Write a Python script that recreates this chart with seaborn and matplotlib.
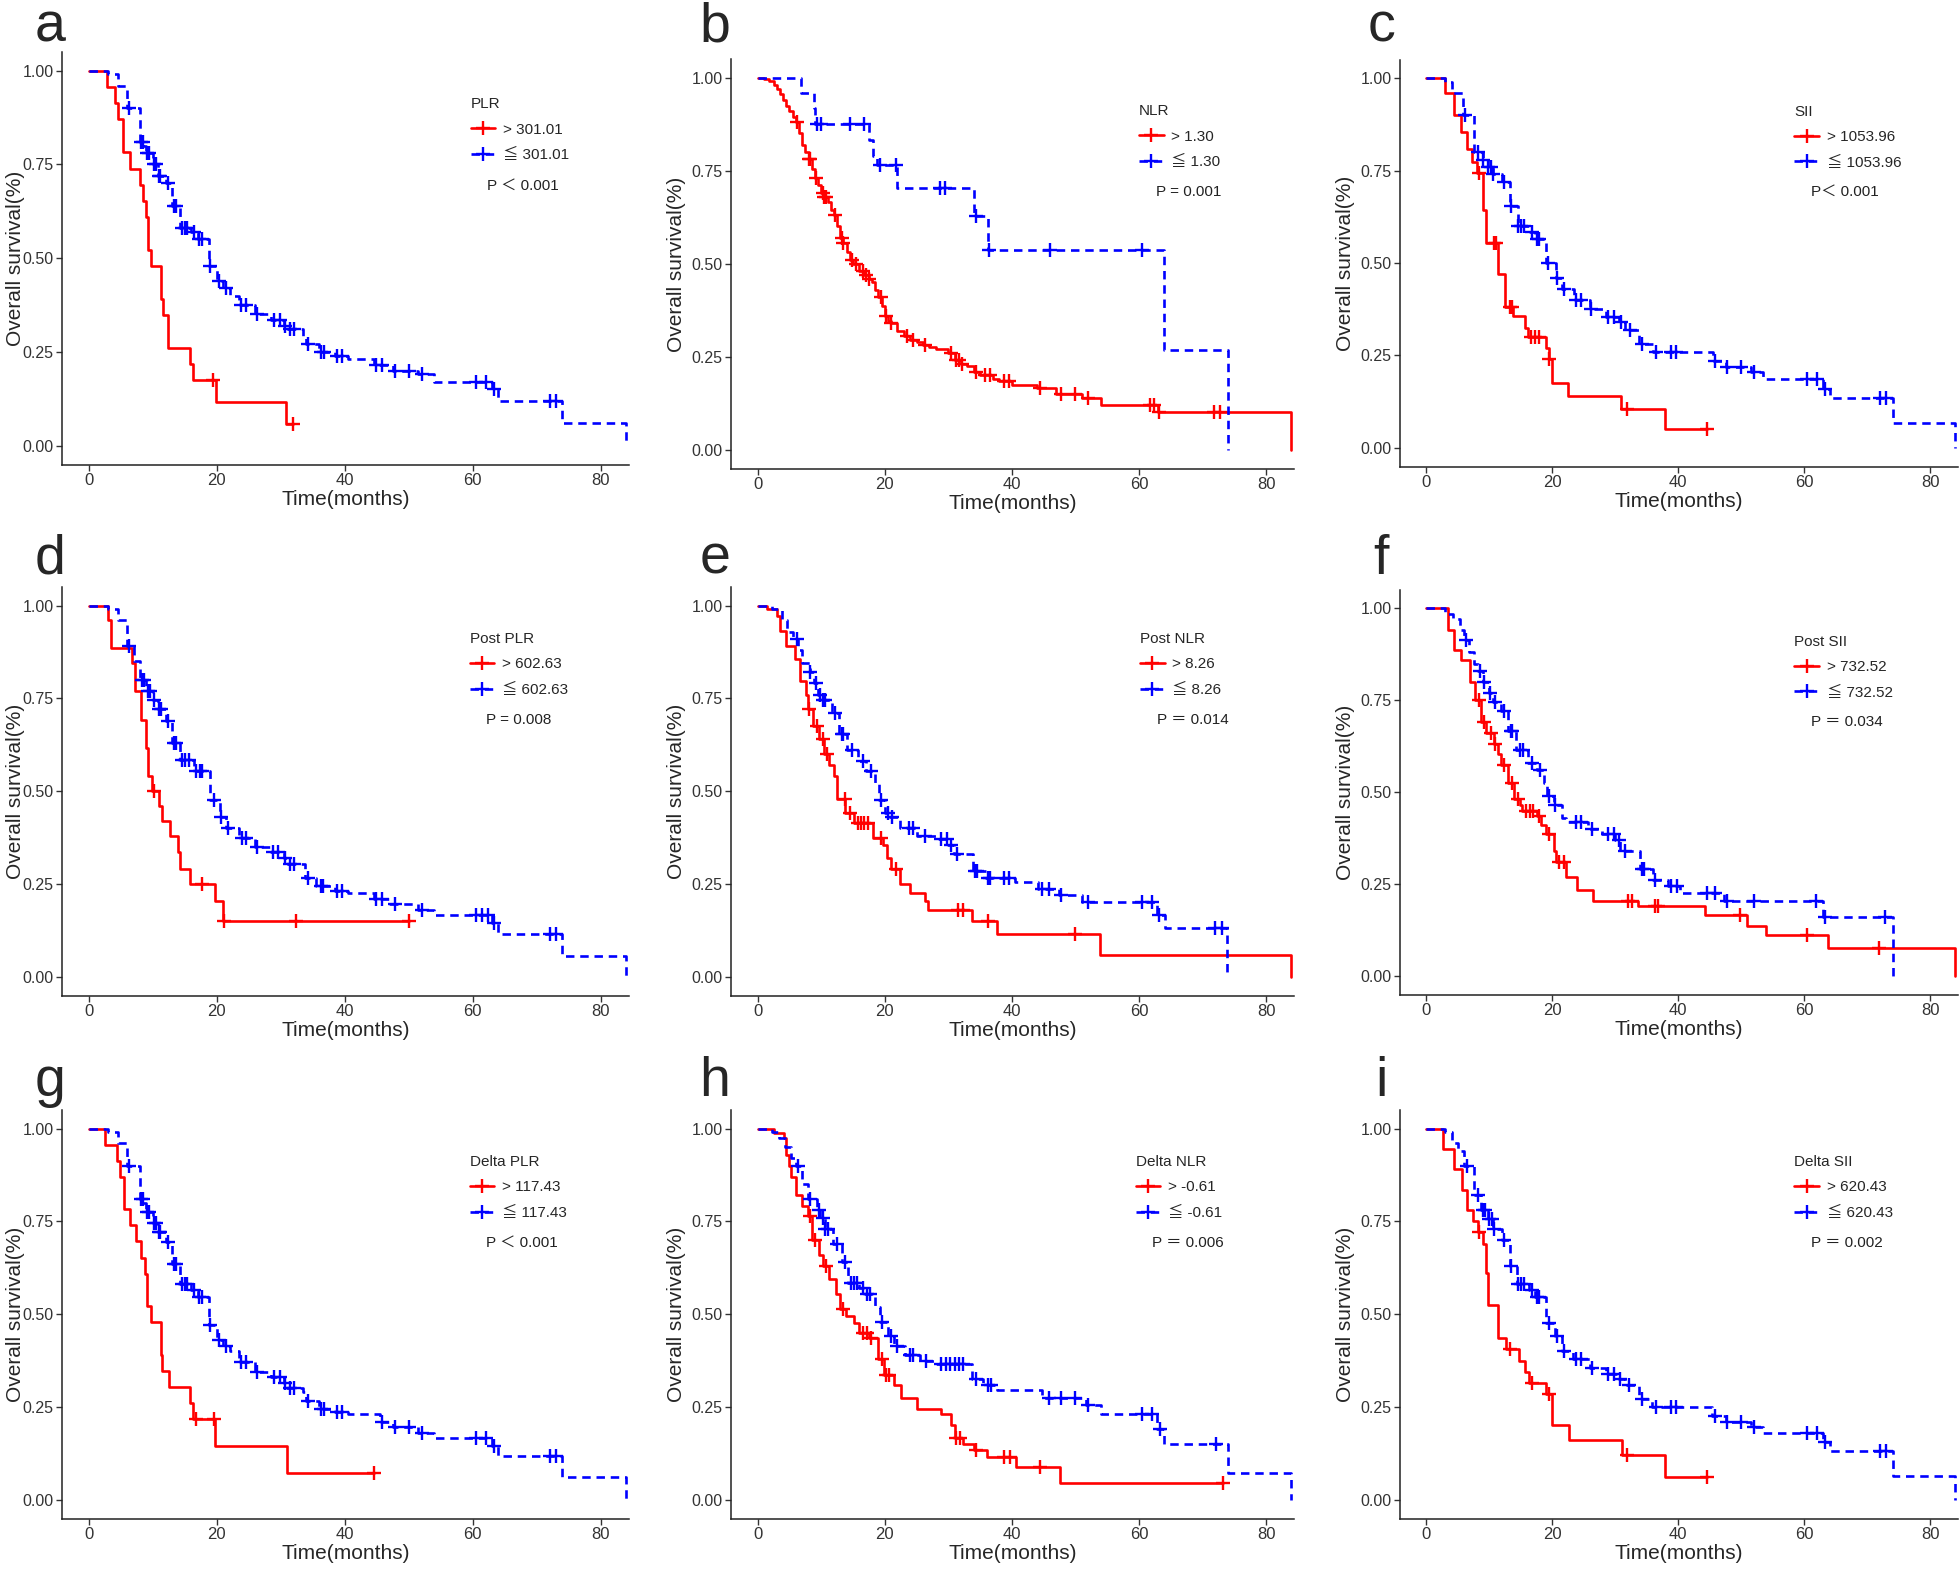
import numpy as np
import pandas as pd
import matplotlib
matplotlib.use("Agg")
import matplotlib.pyplot as plt
from matplotlib.lines import Line2D
import seaborn as sns

# ---- step points (time, survival after the drop) and censor times ----
a_red = [(2.9, 0.957), (4.1, 0.913), (4.6, 0.870), (5.4, 0.783), (6.4, 0.739), (8.0, 0.696), (8.5, 0.652),
         (8.9, 0.609), (9.2, 0.522), (9.7, 0.478), (11.3, 0.391), (11.6, 0.348), (12.3, 0.261), (15.8, 0.217),
         (16.3, 0.174), (19.9, 0.116), (30.8, 0.058)]
a_red_cens = [19.4, 31.9]
a_red_end = 31.9
a_blue = [(3.0, 0.99), (4.5, 0.96), (6.0, 0.90), (8.0, 0.81), (8.5, 0.80), (9.0, 0.78), (10.0, 0.75), (10.8, 0.72),
          (12.0, 0.70), (13.0, 0.64), (14.3, 0.58), (16.0, 0.57), (17.0, 0.55), (18.8, 0.48), (20.0, 0.44),
          (21.0, 0.42), (22.0, 0.40), (23.5, 0.375), (26.0, 0.35), (28.5, 0.335), (30.5, 0.32), (31.0, 0.31),
          (33.5, 0.29), (34.0, 0.27), (36.0, 0.25), (38.5, 0.24), (40.5, 0.23), (44.5, 0.215), (47.5, 0.20),
          (51.5, 0.19), (54.0, 0.17), (63.0, 0.15), (64.0, 0.12), (74.0, 0.06), (84.0, 0.0)]
a_blue_cens = [6.3, 8.2, 8.4, 9.1, 9.4, 10.2, 10.5, 10.9, 11.1, 12.3, 13.3, 13.6, 14.5, 15.0, 15.4, 16.5, 17.2,
               17.6, 19.0, 20.3, 21.4, 23.8, 24.5, 26.3, 28.9, 29.8, 30.7, 31.5, 32.0, 34.3, 36.2, 36.7, 38.7,
               39.5, 44.8, 45.8, 47.8, 50.0, 52.0, 60.5, 62.0, 63.3, 72.0, 73.0]
a_blue_end = 84.0

b_red = [(1.0, 0.995), (1.8, 0.99), (2.5, 0.98), (3.0, 0.97), (3.5, 0.955), (4.0, 0.94), (4.5, 0.925), (5.0, 0.91),
         (5.5, 0.895), (6.0, 0.88), (6.5, 0.85), (7.0, 0.82), (7.5, 0.80), (8.0, 0.78), (8.5, 0.755), (9.0, 0.73),
         (9.5, 0.71), (10.0, 0.69), (10.5, 0.68), (11.0, 0.665), (11.5, 0.645), (12.0, 0.63), (12.5, 0.60),
         (13.0, 0.57), (13.5, 0.555), (14.0, 0.53), (14.5, 0.51), (15.0, 0.50), (16.0, 0.48), (16.8, 0.47),
         (17.5, 0.46), (18.0, 0.45), (18.5, 0.43), (19.0, 0.41), (19.5, 0.385), (20.0, 0.36), (20.5, 0.345),
         (21.0, 0.34), (22.0, 0.32), (23.0, 0.305), (24.0, 0.295), (25.0, 0.29), (26.0, 0.28), (27.0, 0.275),
         (28.0, 0.27), (30.0, 0.26), (31.0, 0.24), (32.0, 0.23), (33.0, 0.225), (34.0, 0.21), (35.0, 0.20),
         (37.0, 0.19), (38.0, 0.185), (40.0, 0.175), (44.0, 0.165), (47.0, 0.15), (51.0, 0.14), (54.0, 0.12),
         (63.0, 0.10), (84.0, 0.0)]
b_red_cens = [6.2, 8.0, 8.3, 9.1, 10.2, 10.5, 10.8, 12.1, 13.2, 13.5, 14.8, 15.4, 16.5, 17.0, 17.5, 19.4, 20.2,
              21.0, 23.5, 24.5, 26.3, 30.5, 31.2, 31.7, 32.2, 34.3, 35.8, 36.5, 38.8, 39.5, 44.5, 47.7, 50.0,
              52.0, 61.8, 62.3, 63.2, 71.8, 72.7]
b_red_end = 84.0
b_blue = [(6.8, 0.958), (8.8, 0.917), (9.0, 0.875), (17.5, 0.833), (18.2, 0.79), (18.8, 0.765), (22.0, 0.704),
          (34.0, 0.627), (36.2, 0.537), (64.0, 0.268), (74.0, 0.0)]
b_blue_cens = [9.3, 10.0, 14.5, 16.7, 19.3, 21.8, 28.7, 29.5, 34.3, 36.4, 46.0, 60.5]
b_blue_end = 74.0

c_red = [(3.0, 0.96), (4.3, 0.90), (5.5, 0.855), (6.5, 0.81), (7.3, 0.775), (8.0, 0.745), (9.0, 0.643),
         (9.5, 0.555), (11.4, 0.47), (12.5, 0.38), (13.8, 0.357), (15.7, 0.325), (16.2, 0.30), (19.0, 0.27),
         (19.5, 0.24), (19.9, 0.175), (22.5, 0.14), (30.9, 0.105), (37.8, 0.05)]
c_red_cens = [8.3, 10.7, 11.0, 13.3, 13.6, 16.6, 17.3, 17.9, 19.5, 31.8, 44.5]
c_red_end = 44.5
c_blue = [(3.0, 0.99), (4.0, 0.96), (5.8, 0.90), (7.5, 0.80), (9.0, 0.78), (9.7, 0.76), (10.5, 0.74), (12.0, 0.72),
          (13.3, 0.655), (14.5, 0.60), (16.5, 0.585), (17.3, 0.565), (19.0, 0.50), (20.5, 0.46), (21.5, 0.43),
          (23.5, 0.40), (26.0, 0.375), (28.5, 0.355), (30.5, 0.34), (31.5, 0.32), (33.7, 0.28), (36.0, 0.26),
          (45.5, 0.235), (47.5, 0.22), (51.5, 0.205), (53.5, 0.185), (63.0, 0.16), (64.0, 0.135), (74.0, 0.066),
          (84.0, 0.0)]
c_blue_cens = [6.2, 8.2, 9.0, 9.8, 10.2, 10.6, 12.3, 13.5, 14.6, 15.0, 15.5, 16.8, 17.5, 17.8, 19.3, 20.7, 21.8,
               23.8, 24.5, 26.2, 28.9, 29.8, 30.9, 32.3, 34.2, 36.5, 38.8, 39.7, 45.8, 47.8, 50.0, 52.0, 60.5,
               62.0, 63.3, 72.0, 73.0]
c_blue_end = 84.0

d_red = [(3.0, 0.96), (3.4, 0.885), (6.8, 0.846), (7.2, 0.77), (8.2, 0.692), (8.9, 0.615), (9.3, 0.54),
         (9.9, 0.50), (11.0, 0.46), (11.4, 0.42), (12.6, 0.38), (14.0, 0.335), (14.3, 0.29), (15.8, 0.25),
         (19.7, 0.205), (21.0, 0.15)]
d_red_cens = [10.2, 17.6, 21.1, 32.3, 50.0]
d_red_end = 50.0
d_blue = [(3.0, 0.99), (4.5, 0.96), (6.0, 0.89), (7.0, 0.85), (8.0, 0.80), (9.0, 0.77), (10.0, 0.745), (10.8, 0.72),
          (12.0, 0.69), (13.0, 0.63), (14.3, 0.585), (16.5, 0.555), (19.0, 0.475), (20.5, 0.43), (21.5, 0.40),
          (23.5, 0.375), (26.0, 0.35), (28.5, 0.335), (30.5, 0.32), (31.0, 0.305), (33.8, 0.265), (35.5, 0.245),
          (38.5, 0.23), (40.5, 0.225), (44.5, 0.21), (47.0, 0.195), (51.5, 0.18), (54.0, 0.165), (63.0, 0.145),
          (64.0, 0.115), (74.0, 0.057), (84.0, 0.0)]
d_blue_cens = [6.3, 8.3, 8.6, 9.3, 9.6, 10.2, 10.9, 11.2, 12.3, 13.3, 13.6, 14.5, 15.0, 15.6, 16.8, 17.3, 17.7,
               19.5, 20.6, 21.7, 23.9, 24.5, 26.2, 28.8, 29.6, 30.6, 31.5, 32.0, 34.2, 36.3, 36.6, 38.7, 39.5,
               44.8, 45.8, 47.9, 52.0, 60.5, 61.5, 62.3, 63.3, 72.0, 73.0]
d_blue_end = 84.0

e_red = [(1.5, 0.99), (3.0, 0.973), (3.5, 0.932), (4.4, 0.89), (5.8, 0.855), (6.6, 0.796), (7.6, 0.76), (7.9, 0.72),
         (8.7, 0.675), (9.6, 0.64), (10.5, 0.60), (11.2, 0.57), (12.0, 0.54), (12.5, 0.48), (13.8, 0.44),
         (15.1, 0.415), (18.1, 0.375), (19.7, 0.355), (20.4, 0.32), (21.0, 0.29), (22.4, 0.25), (24.0, 0.225),
         (26.4, 0.205), (26.8, 0.18), (33.7, 0.15), (37.7, 0.115), (53.9, 0.058), (84.0, 0.0)]
e_red_cens = [8.1, 9.3, 10.3, 10.9, 13.7, 14.5, 15.8, 16.3, 16.8, 17.3, 19.4, 21.8, 31.5, 32.3, 36.2, 49.9]
e_red_end = 84.0
e_blue = [(2.3, 0.99), (3.9, 0.96), (4.6, 0.93), (5.5, 0.91), (6.4, 0.88), (6.9, 0.845), (8.2, 0.82), (8.9, 0.79),
          (9.5, 0.76), (10.2, 0.745), (11.7, 0.71), (12.8, 0.655), (14.1, 0.61), (15.8, 0.58), (17.1, 0.555),
          (18.4, 0.52), (19.1, 0.475), (20.1, 0.44), (20.7, 0.43), (22.4, 0.40), (25.0, 0.38), (28.3, 0.37),
          (30.0, 0.355), (30.9, 0.33), (33.9, 0.285), (35.9, 0.265), (40.5, 0.255), (44.1, 0.235), (47.4, 0.22),
          (51.0, 0.20), (62.8, 0.165), (64.1, 0.13), (73.8, 0.0)]
e_blue_cens = [6.2, 8.2, 9.2, 9.8, 10.2, 10.6, 12.2, 13.3, 13.5, 14.8, 16.5, 17.8, 19.4, 20.5, 21.2, 23.8, 24.5,
               26.3, 28.9, 29.8, 30.5, 31.3, 34.2, 34.5, 36.3, 36.6, 38.8, 39.6, 44.8, 45.8, 47.8, 52.0, 60.5,
               62.0, 63.2, 72.0, 73.0]
e_blue_end = 73.8

f_red = [(3.5, 0.94), (4.3, 0.887), (5.5, 0.86), (6.9, 0.80), (7.7, 0.75), (8.7, 0.69), (9.5, 0.66), (10.7, 0.63),
         (11.4, 0.605), (11.9, 0.575), (12.9, 0.525), (13.9, 0.48), (14.9, 0.465), (15.2, 0.45), (17.6, 0.435),
         (18.2, 0.41), (19.0, 0.385), (20.2, 0.34), (20.6, 0.31), (22.2, 0.27), (23.9, 0.235), (26.4, 0.205),
         (33.6, 0.19), (44.3, 0.165), (50.9, 0.135), (53.9, 0.11), (63.8, 0.075), (84.0, 0.0)]
f_red_cens = [8.3, 9.2, 10.3, 10.9, 12.3, 13.6, 14.5, 15.8, 16.4, 16.9, 17.8, 19.5, 21.1, 21.8, 32.0, 32.6, 36.3,
              36.8, 49.8, 60.5, 71.8]
f_red_end = 84.0
f_blue = [(2.9, 0.985), (4.2, 0.97), (5.4, 0.94), (6.0, 0.915), (6.8, 0.88), (7.5, 0.85), (8.2, 0.83), (8.9, 0.80),
          (9.9, 0.77), (10.5, 0.745), (11.9, 0.72), (12.9, 0.665), (14.2, 0.615), (16.2, 0.58), (17.6, 0.56),
          (18.6, 0.525), (19.2, 0.49), (20.2, 0.465), (21.5, 0.43), (22.2, 0.42), (25.6, 0.40), (27.9, 0.385),
          (29.9, 0.37), (30.8, 0.34), (33.9, 0.29), (35.9, 0.26), (38.3, 0.245), (40.3, 0.225), (47.3, 0.205),
          (63.0, 0.16), (74.0, 0.0)]
f_blue_cens = [6.3, 8.5, 9.2, 10.1, 10.9, 12.3, 13.4, 13.6, 14.9, 15.3, 16.8, 18.0, 19.5, 20.4, 23.8, 24.5, 26.3,
               28.9, 29.7, 30.5, 31.5, 34.3, 34.6, 36.3, 38.8, 39.8, 44.6, 45.8, 47.8, 52.0, 61.8, 63.3, 72.8]
f_blue_end = 74.0

g_red = [(2.5, 0.957), (4.4, 0.913), (4.9, 0.87), (5.5, 0.783), (6.4, 0.739), (7.4, 0.696), (8.2, 0.652),
         (8.7, 0.609), (9.1, 0.522), (9.7, 0.478), (11.2, 0.391), (11.5, 0.348), (12.5, 0.304), (15.8, 0.261),
         (16.3, 0.217), (19.7, 0.145), (30.9, 0.072)]
g_red_cens = [16.7, 19.5, 44.5]
g_red_end = 44.5
g_blue = [(3.0, 0.99), (4.5, 0.96), (6.0, 0.90), (8.0, 0.81), (8.5, 0.80), (9.0, 0.775), (10.0, 0.745),
          (10.8, 0.72), (12.0, 0.695), (13.0, 0.635), (14.3, 0.58), (16.0, 0.565), (17.0, 0.545), (18.8, 0.47),
          (20.0, 0.43), (21.0, 0.415), (22.0, 0.40), (23.5, 0.37), (26.0, 0.345), (28.5, 0.33), (30.5, 0.315),
          (31.0, 0.30), (33.5, 0.29), (34.0, 0.265), (36.0, 0.245), (38.5, 0.235), (40.5, 0.23), (45.5, 0.21),
          (47.5, 0.195), (51.5, 0.18), (54.0, 0.165), (63.0, 0.145), (64.0, 0.118), (74.0, 0.06), (84.0, 0.0)]
g_blue_cens = [6.3, 8.2, 8.4, 9.1, 9.4, 10.2, 10.5, 10.9, 11.1, 12.3, 13.3, 13.6, 14.5, 15.0, 15.4, 16.5, 17.2,
               17.6, 19.0, 20.3, 21.4, 23.8, 24.5, 26.3, 28.9, 29.8, 30.7, 31.5, 32.0, 34.3, 36.2, 36.7, 38.7,
               39.5, 45.8, 47.8, 50.0, 52.0, 60.5, 62.0, 63.3, 72.0, 73.0]
g_blue_end = 84.0

h_red = [(2.6, 0.988), (4.2, 0.975), (4.4, 0.93), (5.0, 0.90), (5.3, 0.87), (6.1, 0.82), (7.0, 0.79), (7.9, 0.765),
         (8.6, 0.70), (9.6, 0.66), (10.3, 0.63), (11.3, 0.595), (12.3, 0.555), (12.9, 0.515), (13.9, 0.495),
         (15.2, 0.475), (15.9, 0.45), (17.5, 0.435), (18.9, 0.38), (19.9, 0.335), (21.5, 0.31), (22.5, 0.275),
         (25.0, 0.245), (28.8, 0.23), (30.5, 0.20), (31.0, 0.165), (32.3, 0.15), (34.1, 0.135), (36.1, 0.115),
         (40.6, 0.088), (47.5, 0.044)]
h_red_cens = [8.3, 9.0, 10.8, 13.4, 16.5, 17.2, 17.8, 19.5, 20.2, 20.7, 31.2, 31.8, 34.3, 38.8, 39.7, 44.5, 73.2]
h_red_end = 73.2
h_blue = [(2.3, 0.99), (3.3, 0.975), (4.3, 0.95), (5.3, 0.92), (6.0, 0.90), (7.0, 0.85), (7.9, 0.81), (9.3, 0.78),
          (9.8, 0.76), (10.6, 0.73), (11.9, 0.69), (13.2, 0.64), (14.2, 0.585), (15.9, 0.57), (16.9, 0.555),
          (18.5, 0.52), (19.2, 0.48), (20.5, 0.44), (21.5, 0.415), (23.2, 0.39), (25.5, 0.375), (27.8, 0.365),
          (33.8, 0.325), (35.5, 0.31), (37.7, 0.295), (44.7, 0.275), (51.6, 0.255), (54.0, 0.23), (62.9, 0.19),
          (63.9, 0.15), (74.0, 0.072), (84.0, 0.0)]
h_blue_cens = [6.3, 8.3, 9.6, 10.2, 10.6, 11.0, 12.5, 13.7, 14.7, 15.1, 15.6, 16.5, 17.2, 17.6, 19.5, 21.0, 22.0,
               23.9, 24.5, 26.5, 28.8, 29.6, 30.3, 31.0, 31.7, 32.3, 34.3, 36.3, 36.7, 45.8, 47.8, 50.0, 52.0,
               60.5, 62.0, 63.3, 72.2]
h_blue_end = 84.0

i_red = [(2.7, 0.945), (4.4, 0.89), (5.6, 0.835), (6.4, 0.78), (7.4, 0.75), (8.2, 0.72), (9.0, 0.69), (9.4, 0.61),
         (9.8, 0.525), (11.4, 0.435), (12.7, 0.405), (14.7, 0.375), (15.6, 0.345), (16.3, 0.315), (19.0, 0.285),
         (20.0, 0.20), (22.6, 0.16), (31.0, 0.12), (37.9, 0.062)]
i_red_cens = [8.4, 13.3, 16.7, 19.5, 31.9, 44.5]
i_red_end = 44.5
i_blue = [(3.0, 0.99), (4.0, 0.96), (5.0, 0.94), (6.0, 0.90), (7.5, 0.82), (8.7, 0.78), (9.8, 0.755), (10.6, 0.73),
          (12.0, 0.70), (13.3, 0.63), (14.3, 0.58), (16.3, 0.565), (17.3, 0.545), (19.0, 0.475), (20.4, 0.44),
          (21.5, 0.40), (23.3, 0.38), (26.0, 0.355), (28.5, 0.34), (30.5, 0.325), (31.5, 0.31), (33.7, 0.27),
          (35.8, 0.25), (45.3, 0.225), (47.5, 0.21), (51.5, 0.195), (53.5, 0.18), (63.0, 0.155), (64.0, 0.13),
          (74.0, 0.065), (84.0, 0.0)]
i_blue_cens = [6.4, 8.2, 9.0, 9.3, 10.0, 10.4, 10.8, 12.3, 13.5, 14.6, 15.0, 15.5, 16.7, 17.5, 17.9, 19.4, 20.8,
               21.9, 23.8, 24.5, 26.3, 28.9, 29.8, 30.8, 32.2, 34.2, 36.4, 38.8, 39.7, 45.8, 47.8, 50.0, 52.0,
               60.5, 62.0, 63.3, 72.0, 73.0]
i_blue_end = 84.0

# ---- panel texts ----
panel_letters = ["a", "b", "c", "d", "e", "f", "g", "h", "i"]
legend_titles = ["PLR", "NLR", "SII", "Post PLR", "Post NLR", "Post SII", "Delta PLR", "Delta NLR", "Delta SII"]
cutoffs = ["301.01", "1.30", "1053.96", "602.63", "8.26", "732.52", "117.43", "-0.61", "620.43"]
p_texts = ["P \uff1c 0.001", "P = 0.001", "P\uff1c 0.001", "P = 0.008", "P \uff1d 0.014",
           "P \uff1d 0.034", "P \uff1c 0.001", "P \uff1d 0.006", "P \uff1d 0.002"]

curves = [
    (a_red, a_red_cens, a_red_end, a_blue, a_blue_cens, a_blue_end),
    (b_red, b_red_cens, b_red_end, b_blue, b_blue_cens, b_blue_end),
    (c_red, c_red_cens, c_red_end, c_blue, c_blue_cens, c_blue_end),
    (d_red, d_red_cens, d_red_end, d_blue, d_blue_cens, d_blue_end),
    (e_red, e_red_cens, e_red_end, e_blue, e_blue_cens, e_blue_end),
    (f_red, f_red_cens, f_red_end, f_blue, f_blue_cens, f_blue_end),
    (g_red, g_red_cens, g_red_end, g_blue, g_blue_cens, g_blue_end),
    (h_red, h_red_cens, h_red_end, h_blue, h_blue_cens, h_blue_end),
    (i_red, i_red_cens, i_red_end, i_blue, i_blue_cens, i_blue_end),
]

RED = "#ff0000"
BLUE = "#0000ff"
BLUE_DASH = (0, (3.2, 2.2))
LEG_FONT = ["Liberation Sans", "Noto Sans CJK SC", "DejaVu Sans"]


def km_frame(steps, end):
    t = [0.0] + [p[0] for p in steps]
    s = [1.0] + [p[1] for p in steps]
    if end > t[-1]:
        t.append(end)
        s.append(s[-1])
    return pd.DataFrame({"time": t, "surv": s})


def censor_frame(steps, times):
    t = np.array([0.0] + [p[0] for p in steps])
    s = np.array([1.0] + [p[1] for p in steps])
    idx = np.searchsorted(t, times, side="right") - 1
    return pd.DataFrame({"time": times, "surv": s[idx]})


sns.set_theme(style="ticks")
plt.rcParams["font.family"] = ["Liberation Sans", "DejaVu Sans"]

fig = plt.figure(figsize=(19.6, 15.72), dpi=100)
W, H = 1960.0, 1572.0
col_px = [(62, 629), (731, 1294), (1400, 1958)]
# top / bottom of each panel's axes box, in picture pixels
box_px = [(52, 465), (59, 469), (60, 467),
          (587, 996), (587, 996), (590, 995),
          (1110, 1519), (1110, 1519), (1110, 1519)]
letter_x = [50, 715, 1381]
letter_base = [42, 574, 1096]
legend_x = [0.722, 0.726, 0.708, 0.720, 0.728, 0.708, 0.720, 0.720, 0.708]
# right edge of the rotated y label, in axes fraction
ylabel_x = [-0.066, -0.080, -0.080]

for k in range(9):
    r, c = divmod(k, 3)
    x0, x1 = col_px[c]
    y0, y1 = box_px[k]
    ax = fig.add_axes([x0 / W, 1 - y1 / H, (x1 - x0) / W, (y1 - y0) / H])
    red, red_c, red_end, blue, blue_c, blue_end = curves[k]

    sns.lineplot(data=km_frame(red, red_end), x="time", y="surv", ax=ax, color=RED, lw=1.9,
                 drawstyle="steps-post", estimator=None, sort=False, zorder=3)
    sns.lineplot(data=km_frame(blue, blue_end), x="time", y="surv", ax=ax, color=BLUE, lw=1.9,
                 linestyle=BLUE_DASH, drawstyle="steps-post", estimator=None, sort=False, zorder=4)
    sns.scatterplot(data=censor_frame(red, red_c), x="time", y="surv", ax=ax, marker="+", s=90,
                    color=RED, linewidth=1.7, zorder=5)
    sns.scatterplot(data=censor_frame(blue, blue_c), x="time", y="surv", ax=ax, marker="+", s=90,
                    color=BLUE, linewidth=1.7, zorder=6)

    ax.set_xlim(-4.2, 84.4)
    ax.set_ylim(-0.052, 1.05)
    ax.set_xticks([0, 20, 40, 60, 80])
    ax.set_yticks([0, 0.25, 0.5, 0.75, 1.0])
    ax.set_yticklabels(["0.00", "0.25", "0.50", "0.75", "1.00"])
    ax.tick_params(length=4, width=1.0, color="#333333", pad=2, labelsize=12, labelcolor="#333333")
    ax.tick_params(axis="y", labelsize=11.5)
    sns.despine(ax=ax)
    for sp in ("left", "bottom"):
        ax.spines[sp].set_linewidth(1.1)
        ax.spines[sp].set_color("#222222")
    ax.set_xlabel("Time(months)", fontsize=15, labelpad=1)
    ax.set_ylabel("Overall survival(%)", fontsize=15)
    ax.yaxis.set_label_coords(ylabel_x[c], 0.5)

    handles = [Line2D([], [], color=RED, lw=1.9, marker="+", markersize=10, markeredgewidth=1.7),
               Line2D([], [], color=BLUE, lw=1.9, ls=BLUE_DASH, marker="+", markersize=10, markeredgewidth=1.7)]
    labels = ["> " + cutoffs[k], "\u2266 " + cutoffs[k]]
    leg = ax.legend(handles, labels, title=legend_titles[k], loc="upper left",
                    bbox_to_anchor=(legend_x[k] - 0.012, 0.905), frameon=False, handlelength=1.6,
                    handletextpad=0.5, labelspacing=0.75, borderaxespad=0, alignment="left",
                    prop={"family": LEG_FONT, "size": 11})
    leg.get_title().set_family(LEG_FONT)
    leg.get_title().set_fontsize(11)
    ax.text(legend_x[k] + 0.028, 0.675, p_texts[k], transform=ax.transAxes, fontsize=11,
            family=LEG_FONT, color="#222222", va="center")

    fig.text(letter_x[c] / W, 1 - letter_base[r] / H, panel_letters[k], fontsize=40,
             ha="center", va="baseline")

fig.savefig("out.png", dpi=100)
